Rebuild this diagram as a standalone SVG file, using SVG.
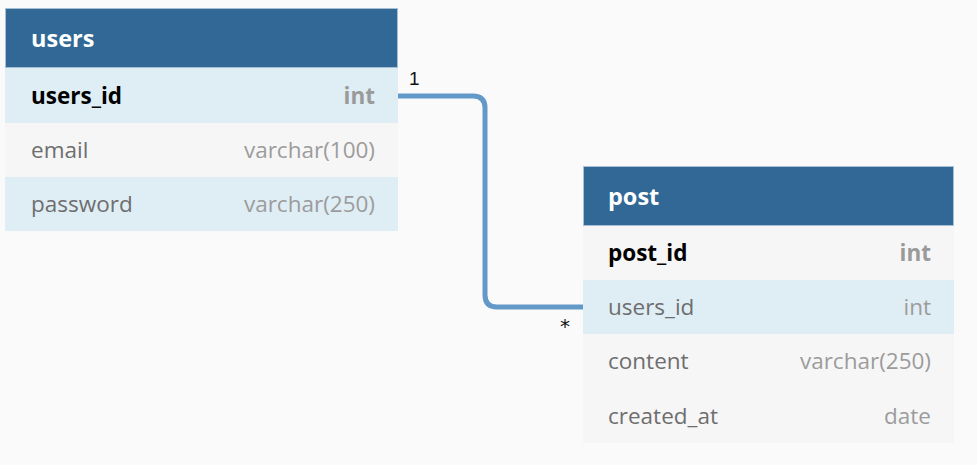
<svg xmlns="http://www.w3.org/2000/svg" width="977" height="465" viewBox="0 0 977 465">
<style>
text{font-family:"Open Sans","Noto Sans","DejaVu Sans",sans-serif;font-size:22.5px}
.hdr{fill:#316895;stroke:#a9c0d4;stroke-width:1}
.title{fill:#ffffff;font-weight:700;font-size:23.5px}
.rb{fill:#dfedf5}
.rg{fill:#f6f6f6}
.name{fill:#6e6e6e}
.type{fill:#9c9c9c;text-anchor:end}
.pk{fill:#000000;font-weight:700}
.pkt{fill:#9a9a9a;font-weight:700;text-anchor:end}
.conn{fill:none;stroke:#6399c8;stroke-width:5}
.lbl{fill:#111111;font-family:"Liberation Sans",Arial,sans-serif}
.ast{fill:#111111;font-family:"DejaVu Sans",sans-serif}
</style>
<rect width="977" height="465" fill="#fafafa"/>
<g id="connectors">
<path class="conn" d="M398,96 H473 Q485,96 485,108 V295 Q485,307 497,307 H583"/>
<text class="lbl" x="409" y="85" style="font-size:19px">1</text>
<text class="ast" x="560" y="333" style="font-size:20px">*</text>
</g>
<g id="users">
<rect class="hdr" x="5.5" y="8.5" width="392" height="59"/>
<text class="title" x="31" y="47">users</text>
<rect class="rb" x="5" y="68" width="393" height="55"/>
<text class="pk" x="31" y="104">users_id</text>
<text class="pkt" x="375" y="104">int</text>
<rect class="rg" x="5" y="123" width="393" height="54"/>
<text class="name" x="31" y="158">email</text>
<text class="type" x="375" y="158">varchar(100)</text>
<rect class="rb" x="5" y="177" width="393" height="54"/>
<text class="name" x="31" y="212">password</text>
<text class="type" x="375" y="212">varchar(250)</text>
</g>
<g id="post">
<rect class="hdr" x="583.5" y="166.5" width="370" height="59"/>
<text class="title" x="608" y="205">post</text>
<rect class="rg" x="583" y="226" width="371" height="54"/>
<text class="pk" x="608" y="261">post_id</text>
<text class="pkt" x="931" y="261">int</text>
<rect class="rb" x="583" y="280" width="371" height="54"/>
<text class="name" x="608" y="315">users_id</text>
<text class="type" x="931" y="315">int</text>
<rect class="rg" x="583" y="334" width="371" height="55"/>
<text class="name" x="608" y="369">content</text>
<text class="type" x="931" y="369">varchar(250)</text>
<rect class="rg" x="583" y="389" width="371" height="54"/>
<text class="name" x="608" y="424">created_at</text>
<text class="type" x="931" y="424">date</text>
</g>
</svg>
